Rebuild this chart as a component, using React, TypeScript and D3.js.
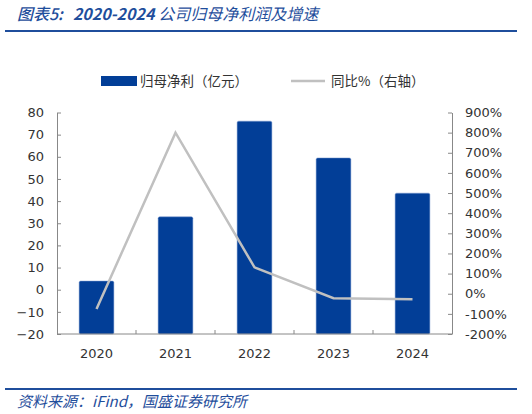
import { useEffect, useRef } from "react";
import * as d3 from "d3";

const YEARS = ["2020", "2021", "2022", "2023", "2024"];
const PROFIT = [3.9, 32.9, 76.1, 59.5, 43.6];
const YOY = [-76, 800, 131, -22, -28];
const LEFT_TICKS = [-20, -10, 0, 10, 20, 30, 40, 50, 60, 70, 80];
const RIGHT_TICKS = [-200, -100, 0, 100, 200, 300, 400, 500, 600, 700, 800, 900];

const BLUE = "#023e97";
const GREY = "#c0c0c0";
const TEXT = "#333";
const FONT = "Verdana, 'DejaVu Sans', 'Noto Sans CJK SC', sans-serif";
const CJK = "'Noto Sans CJK SC', sans-serif";

export default function App() {
  const svgRef = useRef<SVGSVGElement>(null);

  useEffect(() => {
    if (!svgRef.current) return;
    const svg = d3.select(svgRef.current);
    svg.selectAll("*").remove();

    const left = 57;
    const right = 452;
    const top = 112.5;
    const bottom = 334;

    const x = d3.scaleBand().domain(YEARS).range([left, right]).paddingInner(0.56).paddingOuter(0.28);
    const xb = d3.scaleBand().domain(YEARS).range([left, right]);
    const y = d3.scaleLinear().domain([-20, 80]).range([bottom, top]);
    const y2 = d3.scaleLinear().domain([-200, 900]).range([bottom, top]);

    // title
    const title = svg.append("text")
      .attr("x", 17).attr("y", 20)
      .attr("fill", "#1f4e9c")
      .attr("font-size", 16)
      .attr("font-style", "italic")
      .attr("font-family", CJK);
    title.append("tspan").attr("font-weight", 500).text("图表5:");
    title.append("tspan").attr("dx", 10).attr("font-weight", 700).text("2020-2024");
    title.append("tspan").attr("dx", 4).text("公司归母净利润及增速");
    svg.append("line")
      .attr("x1", 5).attr("x2", 517).attr("y1", 31).attr("y2", 31)
      .attr("stroke", "#1f4e9c").attr("stroke-width", 2);

    // legend
    svg.append("rect").attr("x", 101).attr("y", 76).attr("width", 36).attr("height", 10).attr("fill", BLUE);
    svg.append("text").attr("x", 140).attr("y", 86).attr("fill", TEXT).attr("font-size", 13.5)
      .attr("font-family", CJK).text("归母净利（亿元）");
    svg.append("line").attr("x1", 291).attr("x2", 325).attr("y1", 81).attr("y2", 81)
      .attr("stroke", GREY).attr("stroke-width", 2.5);
    svg.append("text").attr("x", 331).attr("y", 86).attr("fill", TEXT).attr("font-size", 13.5)
      .attr("font-family", CJK).text("同比%（右轴）");

    // bars
    svg.append("g").selectAll("rect").data(YEARS).join("rect")
      .attr("x", (d) => x(d)!)
      .attr("width", x.bandwidth())
      .attr("y", (_, i) => y(PROFIT[i]))
      .attr("height", (_, i) => y(-20) - y(PROFIT[i]))
      .attr("rx", 1.5)
      .attr("fill", BLUE)
      .attr("stroke", "#7d9bd0")
      .attr("stroke-width", 0.5);

    // left axis
    const gl = svg.append("g").attr("transform", `translate(${left},0)`)
      .call(d3.axisLeft(y).tickValues(LEFT_TICKS).tickSizeInner(-4).tickSizeOuter(0).tickPadding(13));
    gl.select(".domain").attr("stroke", "#888");
    gl.selectAll(".tick line").attr("stroke", "#888");
    gl.selectAll(".tick text").attr("fill", TEXT).attr("font-size", 13).attr("font-family", FONT);

    // right axis
    const gr = svg.append("g").attr("transform", `translate(${right},0)`)
      .call(d3.axisRight(y2).tickValues(RIGHT_TICKS).tickFormat((d) => `${d}%`).tickSizeInner(-4).tickSizeOuter(0).tickPadding(13));
    gr.select(".domain").attr("stroke", "#888");
    gr.selectAll(".tick line").attr("stroke", "#888");
    gr.selectAll(".tick text").attr("fill", TEXT).attr("font-size", 13).attr("font-family", FONT);

    // bottom axis
    svg.append("line").attr("x1", left).attr("x2", right).attr("y1", bottom).attr("y2", bottom)
      .attr("stroke", "#888");
    svg.append("g").selectAll("line").data(YEARS.slice(1)).join("line")
      .attr("x1", (d) => xb(d)!).attr("x2", (d) => xb(d)!)
      .attr("y1", bottom).attr("y2", bottom - 4)
      .attr("stroke", "#888");
    svg.append("g").selectAll("text").data(YEARS).join("text")
      .attr("x", (d) => xb(d)! + xb.bandwidth() / 2)
      .attr("y", 358)
      .attr("text-anchor", "middle")
      .attr("fill", TEXT).attr("font-size", 13).attr("font-family", FONT)
      .text((d) => d);

    // line
    const line = d3.line<number>()
      .x((_, i) => xb(YEARS[i])! + xb.bandwidth() / 2)
      .y((d) => y2(d));
    svg.append("path").datum(YOY).attr("d", line)
      .attr("fill", "none").attr("stroke", GREY).attr("stroke-width", 2.5);

    // footer
    svg.append("line")
      .attr("x1", 5).attr("x2", 517).attr("y1", 389).attr("y2", 389)
      .attr("stroke", "#1f4e9c").attr("stroke-width", 2);
    svg.append("text")
      .attr("x", 17).attr("y", 407)
      .attr("fill", "#1f4e9c")
      .attr("font-size", 15)
      .attr("font-style", "italic")
      .attr("font-family", CJK)
      .text("资料来源：iFind，国盛证券研究所");
  }, []);

  return (
    <svg ref={svgRef} width={532} height={414}
      style={{ position: "absolute", left: 0, top: 0, background: "#fff" }} />
  );
}
